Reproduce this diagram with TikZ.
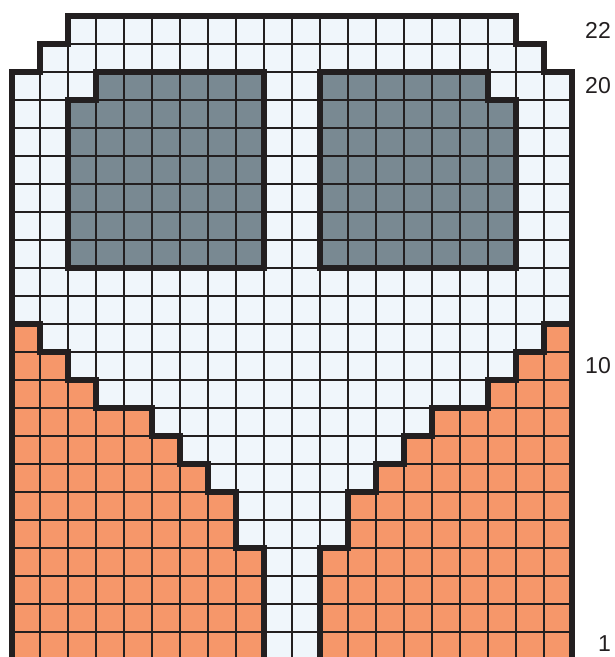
\documentclass[tikz,border=0pt]{standalone}
\usepackage{fontspec}
\setmainfont{Liberation Sans}
\definecolor{lightfill}{RGB}{240,246,251}
\definecolor{slate}{RGB}{121,137,146}
\definecolor{coral}{RGB}{246,151,106}
\definecolor{ink}{RGB}{35,31,32}
\begin{document}
\begin{tikzpicture}[x=1pt,y=-1pt,
  thickline/.style={line width=6pt,draw=ink,line join=miter},
  gridline/.style={line width=1.3pt,draw=ink},
  rowlabel/.style={anchor=east,inner sep=0pt,font=\fontsize{23}{23}\selectfont,text=ink}]
\useasboundingbox (0,0) rectangle (615,657);
\begin{scope}
\clip (0,0) rectangle (615,657);
% light body
\fill[lightfill] (12,690) -- (12,72) -- (40,72) -- (40,44) -- (68,44) -- (68,16) -- (516,16) -- (516,44) -- (544,44) -- (544,72) -- (572,72) -- (572,690) -- cycle;
% orange sides
\fill[coral] (12,690) -- (12,324) -- (40,324) -- (40,352) -- (68,352) -- (68,380) -- (96,380) -- (96,408) -- (152,408) -- (152,436) -- (180,436) -- (180,464) -- (208,464) -- (208,492) -- (236,492) -- (236,548) -- (264,548) -- (264,690) -- cycle;
\fill[coral] (572,690) -- (572,324) -- (544,324) -- (544,352) -- (516,352) -- (516,380) -- (488,380) -- (488,408) -- (432,408) -- (432,436) -- (404,436) -- (404,464) -- (376,464) -- (376,492) -- (348,492) -- (348,548) -- (320,548) -- (320,690) -- cycle;
% gray windows
\fill[slate] (68,268) -- (68,100) -- (96,100) -- (96,72) -- (264,72) -- (264,268) -- cycle;
\fill[slate] (516,268) -- (516,100) -- (488,100) -- (488,72) -- (320,72) -- (320,268) -- cycle;
% grid
\begin{scope}
\clip (12,690) -- (12,72) -- (40,72) -- (40,44) -- (68,44) -- (68,16) -- (516,16) -- (516,44) -- (544,44) -- (544,72) -- (572,72) -- (572,690) -- cycle;
\foreach \k in {0,...,20} {\draw[gridline] ({12+28*\k},0) -- ({12+28*\k},690);}
\foreach \k in {0,...,24} {\draw[gridline] (0,{16+28*\k}) -- (600,{16+28*\k});}
\end{scope}
% thick outlines
\draw[thickline] (12,690) -- (12,72) -- (40,72) -- (40,44) -- (68,44) -- (68,16) -- (516,16) -- (516,44) -- (544,44) -- (544,72) -- (572,72) -- (572,690);
\draw[thickline] (12,324) -- (40,324) -- (40,352) -- (68,352) -- (68,380) -- (96,380) -- (96,408) -- (152,408) -- (152,436) -- (180,436) -- (180,464) -- (208,464) -- (208,492) -- (236,492) -- (236,548) -- (264,548) -- (264,690);
\draw[thickline] (572,324) -- (544,324) -- (544,352) -- (516,352) -- (516,380) -- (488,380) -- (488,408) -- (432,408) -- (432,436) -- (404,436) -- (404,464) -- (376,464) -- (376,492) -- (348,492) -- (348,548) -- (320,548) -- (320,690);
\draw[thickline] (68,268) -- (68,100) -- (96,100) -- (96,72) -- (264,72) -- (264,268) -- cycle;
\draw[thickline] (516,268) -- (516,100) -- (488,100) -- (488,72) -- (320,72) -- (320,268) -- cycle;
\end{scope}
% row labels
\node[rowlabel] (r22) at (611,30) {22};
\node[rowlabel] (r20) at (611,86) {20};
\node[rowlabel] (r10) at (611,366) {10};
\node[rowlabel] (r1) at (611,644) {1};
\end{tikzpicture}
\end{document}
